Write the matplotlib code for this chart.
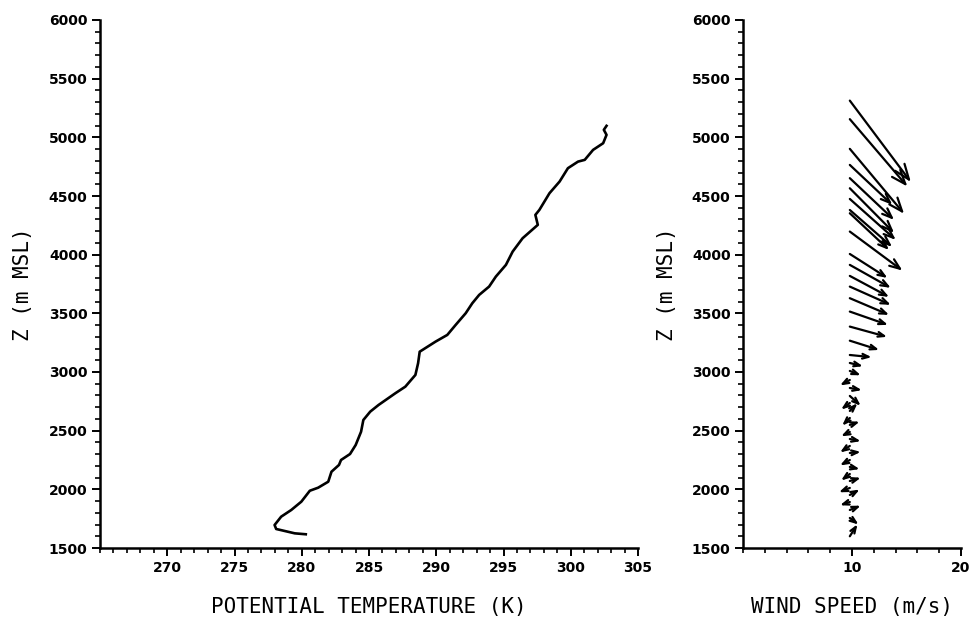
import matplotlib
matplotlib.use("Agg")
import matplotlib.pyplot as plt
from matplotlib.ticker import MultipleLocator, FixedLocator

# ---------------- data ----------------
# potential temperature profile (K) vs height (m MSL)
theta = [280.30, 279.48, 278.10, 277.98, 278.47, 279.22, 279.97, 280.60, 281.22, 281.97,
         282.21, 282.77, 282.92, 283.59, 284.01, 284.41, 284.58, 285.09, 285.71, 286.96,
         287.70, 288.45, 288.65, 288.77, 289.95, 290.82, 291.44, 292.19, 292.68, 293.19,
         293.93, 294.43, 295.18, 295.68, 296.42, 297.55, 297.37, 297.67, 298.42, 299.17,
         299.79, 300.54, 301.04, 301.66, 302.41, 302.66, 302.46, 302.66]
z_theta = [1617, 1625, 1662, 1696, 1767, 1824, 1895, 1988, 2014, 2065,
           2150, 2208, 2250, 2301, 2378, 2491, 2591, 2662, 2719, 2819,
           2875, 2975, 3075, 3173, 3259, 3316, 3401, 3501, 3586, 3657,
           3728, 3813, 3913, 4026, 4140, 4254, 4339, 4382, 4524, 4623,
           4737, 4793, 4808, 4893, 4950, 5021, 5064, 5098]

# wind vectors (m/s, east/north components) vs height (m MSL)
wind_z = [5313, 5155, 4902, 4765, 4652, 4566, 4475, 4381, 4353, 4197,
          4006, 3913, 3819, 3728, 3629, 3515, 3387, 3267,
          3145, 3077, 3009, 2932, 2864, 2796, 2736, 2668, 2608, 2549,
          2489, 2429, 2370, 2310, 2250, 2191, 2131, 2071, 2012, 1952,
          1892, 1824, 1756, 1600]
wind_u = [5.60, 5.28, 4.98, 3.90, 4.06, 4.06, 4.22, 3.88, 3.60, 4.83,
          3.45, 3.76, 3.60, 3.76, 3.60, 3.50, 3.42, 2.69,
          2.00, 1.20, 1.00, -0.90, 1.10, 1.00, -0.80, 0.70, -0.70, 0.90,
          -0.80, 1.00, -0.90, 1.00, -0.90, 0.90, -0.80, 1.00, -1.00, 0.90,
          -0.90, 1.00, 0.80, 0.70]
wind_v = [-7.47, -6.18, -5.96, -3.67, -3.83, -4.10, -3.76, -3.39, -3.37, -3.58,
          -2.20, -2.11, -1.93, -1.68, -1.53, -1.22, -0.94, -0.85,
          -0.20, -0.30, -0.40, -0.50, -0.20, -0.90, -0.60, 0.70, -0.70, 0.30,
          -0.40, -0.20, -0.60, 0.10, -0.50, -0.20, -0.60, 0.30, -0.40, 0.50,
          -0.30, 0.40, -0.60, 1.10]
wind_base = 9.8  # x position (m/s axis) where vectors start

theta_ticks = [270, 275, 280, 285, 290, 295, 300, 305]
speed_ticks = [10, 20]
z_ticks = [1500, 2000, 2500, 3000, 3500, 4000, 4500, 5000, 5500, 6000]

# ---------------- figure ----------------
W, H = 972, 617
fig = plt.figure(figsize=(W / 100, H / 100), dpi=100)
fig.patch.set_facecolor("white")

def px_axes(x0, x1, ytop, ybot):
    return fig.add_axes([x0 / W, 1 - ybot / H, (x1 - x0) / W, (ybot - ytop) / H])

ax1 = px_axes(100, 638, 20, 548)
ax2 = px_axes(743, 961, 20, 548)

tick_font = dict(family="DejaVu Sans", weight="bold", size=10)
label_font = dict(family="DejaVu Sans Mono", size=15)

def style(ax):
    for s in ("top", "right"):
        ax.spines[s].set_visible(False)
    for s in ("left", "bottom"):
        ax.spines[s].set_linewidth(1.8)
    ax.tick_params(which="major", direction="out", length=6, width=1.4, pad=3)
    ax.tick_params(which="minor", direction="out", length=3.5, width=1.2)
    ax.set_ylim(1500, 6000)
    ax.yaxis.set_major_locator(FixedLocator(z_ticks))
    ax.yaxis.set_minor_locator(MultipleLocator(100))
    ax.set_yticklabels([str(t) for t in z_ticks], **tick_font)
    ax.set_ylabel("Z (m MSL)", **label_font)

# left panel
style(ax1)
ax1.set_xlim(265, 305)
ax1.xaxis.set_major_locator(FixedLocator(theta_ticks))
ax1.xaxis.set_minor_locator(MultipleLocator(1))
ax1.set_xticklabels([str(t) for t in theta_ticks], **tick_font)
ax1.plot(theta, z_theta, color="black", lw=1.9, solid_joinstyle="round")
ax1.set_xlabel("POTENTIAL TEMPERATURE (K)", **label_font)
ax1.xaxis.set_label_coords(0.5, -0.092)
ax1.yaxis.set_label_coords(-67 / 538, 0.5)

# right panel
style(ax2)
ax2.set_xlim(0, 20)
ax2.xaxis.set_major_locator(FixedLocator(speed_ticks))
ax2.xaxis.set_minor_locator(MultipleLocator(2))
ax2.set_xticklabels([str(t) for t in speed_ticks], **tick_font)
ax2.set_xlabel("WIND SPEED (m/s)", **label_font)
ax2.xaxis.set_label_coords(0.5, -0.092)
ax2.yaxis.set_label_coords(-66 / 218, 0.5)

# vectors: length measured in units of the speed axis
p0 = ax2.transData.transform((0, 0))
px_per_x = ax2.transData.transform((1, 0))[0] - p0[0]
px_per_z = ax2.transData.transform((0, 1))[1] - p0[1]
for z, u, v in zip(wind_z, wind_u, wind_v):
    tip = (wind_base + u, z + v * px_per_x / px_per_z)
    length_pt = (u * u + v * v) ** 0.5 * px_per_x * 0.72
    hl = max(4.5, min(11.0, 0.16 * length_pt))
    ax2.annotate("", xy=tip, xytext=(wind_base, z), xycoords="data",
                 arrowprops=dict(arrowstyle=f"->,head_length={hl/10:.2f},head_width={hl/26:.2f}",
                                 color="black", lw=1.6, shrinkA=0, shrinkB=0,
                                 mutation_scale=10),
                 annotation_clip=False)

fig.savefig("out.png", dpi=100, facecolor="white")
